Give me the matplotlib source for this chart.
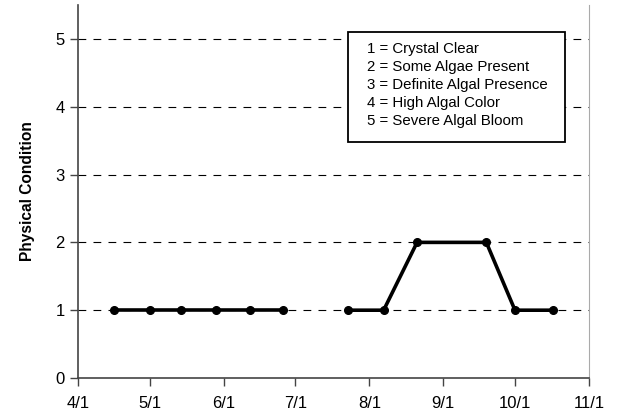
import matplotlib
matplotlib.use("Agg")
import matplotlib.pyplot as plt
import matplotlib.dates as mdates
from matplotlib.patches import Rectangle
from datetime import datetime

plt.rcParams['font.family'] = ['Liberation Sans', 'DejaVu Sans']

# sampling dates and physical condition values (two sampling runs, gap in July)
dates1 = ["2005-04-16", "2005-05-01", "2005-05-14", "2005-05-29", "2005-06-12", "2005-06-26"]
vals1 = [1, 1, 1, 1, 1, 1]
dates2 = ["2005-07-23", "2005-08-07", "2005-08-21", "2005-09-19", "2005-10-01", "2005-10-17"]
vals2 = [1, 1, 2, 2, 1, 1]

tick_dates = ["2005-04-01", "2005-05-01", "2005-06-01", "2005-07-01",
              "2005-08-01", "2005-09-01", "2005-10-01", "2005-11-01"]
tick_labels = ["4/1", "5/1", "6/1", "7/1", "8/1", "9/1", "10/1", "11/1"]

legend_lines = ["1 = Crystal Clear", "2 = Some Algae Present", "3 = Definite Algal Presence",
                "4 = High Algal Color", "5 = Severe Algal Bloom"]

def to_dt(lst):
    return [datetime.strptime(s, "%Y-%m-%d") for s in lst]

fig = plt.figure(figsize=(6.2, 4.16), dpi=100)
ax = fig.add_axes([0.1258, 0.0913, 0.8242, 0.8967])

for y in range(1, 6):
    ax.axhline(y, color="black", lw=0.8, ls=(0, (7, 6.5)), zorder=1)

for d, v in [(dates1, vals1), (dates2, vals2)]:
    ax.plot(to_dt(d), v, color="black", lw=2.6, marker="o", ms=5.5, zorder=3)

ax.set_xlim(to_dt(tick_dates)[0], to_dt(tick_dates)[-1])
ax.set_ylim(0, 5.5)
ax.set_xticks(to_dt(tick_dates))
ax.set_xticklabels(tick_labels, fontsize=12)
ax.set_yticks(range(0, 6))
ax.set_yticklabels([str(i) for i in range(0, 6)], fontsize=12)
ax.tick_params(axis="both", direction="out", length=6, width=1, colors="#444444", labelcolor="black")
ax.tick_params(axis="x", pad=7)

ax.spines["top"].set_visible(False)
ax.spines["right"].set_color("#aaaaaa")
ax.spines["left"].set_color("#444444")
ax.spines["bottom"].set_color("#444444")
ax.spines["left"].set_linewidth(1.2)
ax.spines["bottom"].set_linewidth(1.2)

ax.set_ylabel("Physical Condition", fontsize=11.2, fontweight="bold", labelpad=15)

# legend box with condition codes
x0 = mdates.date2num(datetime(2005, 7, 23))
x1 = mdates.date2num(datetime(2005, 10, 22))
ax.add_patch(Rectangle((x0, 3.48), x1 - x0, 5.10 - 3.48, facecolor="white",
                       edgecolor="black", lw=1.3, zorder=4))
ax.text(datetime(2005, 7, 31), 4.95, "\n".join(legend_lines), fontsize=10.8, va="top", ha="left",
        linespacing=1.36, zorder=5)

fig.savefig("out.png", dpi=100)
